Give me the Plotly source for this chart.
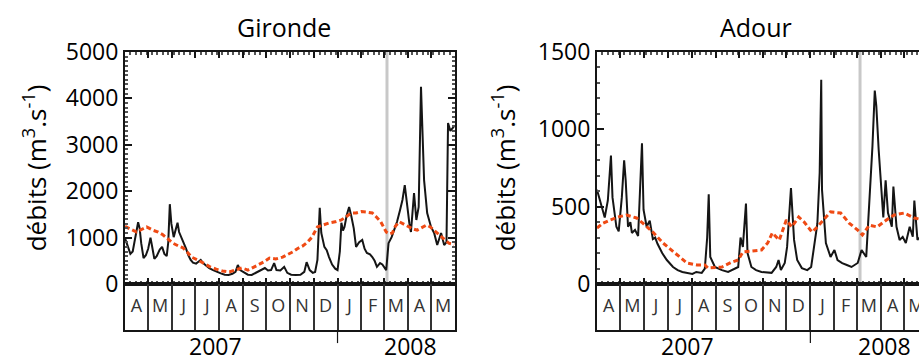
import pandas as pd
import plotly.graph_objects as go

# month letters shown in the band under each panel (Apr 2007 -> May 2008)
months = ['A', 'M', 'J', 'J', 'A', 'S', 'O', 'N', 'D', 'J', 'F', 'M', 'A', 'M']
years = ['2007', '2008']
year_label_dates = ['2007-07-27', '2008-04-05']
year_breaks = ['2008-01-01']
marker_date = '2008-03-05'   # grey vertical line

# Gironde: observed daily discharge (m3/s)
gironde_dates = [
    '2007-04-01', '2007-04-04', '2007-04-08', '2007-04-11', '2007-04-14', '2007-04-18',
    '2007-04-20', '2007-04-22', '2007-04-25', '2007-04-28', '2007-05-01', '2007-05-04',
    '2007-05-06', '2007-05-09', '2007-05-12', '2007-05-16', '2007-05-19', '2007-05-22',
    '2007-05-25', '2007-05-27', '2007-05-29', '2007-05-31', '2007-06-03', '2007-06-06',
    '2007-06-08', '2007-06-10', '2007-06-13', '2007-06-16', '2007-06-19', '2007-06-22',
    '2007-06-25', '2007-06-28', '2007-07-02', '2007-07-05', '2007-07-08', '2007-07-11',
    '2007-07-15', '2007-07-19', '2007-07-24', '2007-07-29', '2007-08-03', '2007-08-08',
    '2007-08-13', '2007-08-18', '2007-08-22', '2007-08-25', '2007-08-28', '2007-09-02',
    '2007-09-07', '2007-09-12', '2007-09-17', '2007-09-21', '2007-09-25', '2007-09-29',
    '2007-10-03', '2007-10-07', '2007-10-11', '2007-10-14', '2007-10-19', '2007-10-24',
    '2007-10-28', '2007-11-02', '2007-11-08', '2007-11-14', '2007-11-19', '2007-11-22',
    '2007-11-26', '2007-11-30', '2007-12-03', '2007-12-06', '2007-12-09', '2007-12-11',
    '2007-12-15', '2007-12-18', '2007-12-21', '2007-12-25', '2007-12-29', '2008-01-01',
    '2008-01-04', '2008-01-06', '2008-01-08', '2008-01-10', '2008-01-13', '2008-01-16',
    '2008-01-19', '2008-01-22', '2008-01-25', '2008-01-29', '2008-02-02', '2008-02-05',
    '2008-02-08', '2008-02-12', '2008-02-15', '2008-02-18', '2008-02-21', '2008-02-25',
    '2008-02-28', '2008-03-02', '2008-03-04', '2008-03-07', '2008-03-11', '2008-03-15',
    '2008-03-18', '2008-03-22', '2008-03-25', '2008-03-28', '2008-03-31', '2008-04-03',
    '2008-04-05', '2008-04-09', '2008-04-12', '2008-04-15', '2008-04-18', '2008-04-20',
    '2008-04-22', '2008-04-26', '2008-05-01', '2008-05-05', '2008-05-09', '2008-05-14',
    '2008-05-18', '2008-05-21', '2008-05-23', '2008-05-26', '2008-05-31']
gironde_q = [
    990, 820, 650, 700, 980, 1330,
    1200, 880, 560, 620, 760, 1000,
    820, 540, 600, 740, 800, 650,
    600, 900, 1720, 1300, 1010, 1200,
    1320, 1120, 1010, 880, 760, 620,
    520, 460, 440, 480, 520, 450,
    390, 340, 300, 260, 230, 200,
    195, 220, 260, 410, 300, 250,
    200, 195, 240, 260, 300, 345,
    290, 300, 450, 300, 290, 370,
    240, 200, 195, 200, 260, 470,
    300, 240, 260, 520, 1640, 1100,
    800, 730, 580, 420, 330, 300,
    700, 1320, 1150, 1230, 1490, 1660,
    1450, 1200, 800, 900, 950, 760,
    670, 640, 580, 500, 370, 450,
    420, 350, 300, 880, 1010, 1200,
    1340, 1600, 1810, 2130, 1660, 1300,
    1120, 1960, 1380, 1660, 4250, 3000,
    2240, 1530, 1230, 1100, 840, 1100,
    840, 900, 3470, 3300, 3400]

# Gironde: mean seasonal discharge (dashed)
gironde_clim_dates = [
    '2007-04-01', '2007-04-08', '2007-04-16', '2007-04-23', '2007-04-29', '2007-05-07',
    '2007-05-14', '2007-05-20', '2007-05-27', '2007-06-02', '2007-06-09', '2007-06-15',
    '2007-06-21', '2007-06-26', '2007-07-04', '2007-07-12', '2007-07-20', '2007-07-28',
    '2007-08-05', '2007-08-14', '2007-08-22', '2007-08-30', '2007-09-07', '2007-09-14',
    '2007-09-20', '2007-09-28', '2007-10-05', '2007-10-13', '2007-10-22', '2007-10-29',
    '2007-11-04', '2007-11-10', '2007-11-17', '2007-11-23', '2007-11-29', '2007-12-06',
    '2007-12-13', '2007-12-21', '2007-12-29', '2008-01-06', '2008-01-12', '2008-01-19',
    '2008-01-25', '2008-02-01', '2008-02-07', '2008-02-15', '2008-02-20', '2008-02-26',
    '2008-03-04', '2008-03-08', '2008-03-12', '2008-03-16', '2008-03-21', '2008-03-27',
    '2008-04-02', '2008-04-07', '2008-04-13', '2008-04-19', '2008-04-25', '2008-04-30',
    '2008-05-05', '2008-05-10', '2008-05-15', '2008-05-24', '2008-05-31']
gironde_clim = [
    1240, 1180, 1120, 1180, 1230, 1160,
    1120, 1060, 960, 880, 820, 780,
    680, 580, 520, 440, 370, 320,
    280, 260, 300, 345, 300, 350,
    410, 480, 560, 540, 580, 640,
    690, 760, 820, 900, 1010, 1230,
    1270, 1315, 1340, 1380, 1450, 1530,
    1530, 1560, 1550, 1530, 1450, 1340,
    1120, 1080, 1100, 1250, 1340, 1290,
    1230, 1190, 1160, 1220, 1270, 1230,
    1160, 1080, 1010, 880, 850]

# Adour: observed daily discharge (m3/s)
adour_dates = [
    '2007-04-01', '2007-04-05', '2007-04-08', '2007-04-11', '2007-04-15', '2007-04-17',
    '2007-04-19', '2007-04-21', '2007-04-24', '2007-04-26', '2007-04-29', '2007-05-03',
    '2007-05-06', '2007-05-08', '2007-05-11', '2007-05-14', '2007-05-16', '2007-05-20',
    '2007-05-24', '2007-05-26', '2007-05-29', '2007-05-31', '2007-06-04', '2007-06-08',
    '2007-06-12', '2007-06-15', '2007-06-18', '2007-06-24', '2007-06-30', '2007-07-08',
    '2007-07-14', '2007-07-20', '2007-07-27', '2007-08-02', '2007-08-07', '2007-08-14',
    '2007-08-18', '2007-08-21', '2007-08-23', '2007-08-25', '2007-08-31', '2007-09-09',
    '2007-09-17', '2007-09-26', '2007-09-30', '2007-10-03', '2007-10-06', '2007-10-10',
    '2007-10-12', '2007-10-17', '2007-10-23', '2007-10-30', '2007-11-06', '2007-11-12',
    '2007-11-18', '2007-11-21', '2007-11-24', '2007-11-29', '2007-12-02', '2007-12-05',
    '2007-12-07', '2007-12-11', '2007-12-15', '2007-12-21', '2007-12-28', '2008-01-02',
    '2008-01-06', '2008-01-10', '2008-01-13', '2008-01-15', '2008-01-16', '2008-01-21',
    '2008-01-27', '2008-02-01', '2008-02-05', '2008-02-11', '2008-02-17', '2008-02-23',
    '2008-03-02', '2008-03-07', '2008-03-13', '2008-03-17', '2008-03-21', '2008-03-24',
    '2008-03-26', '2008-03-29', '2008-04-02', '2008-04-04', '2008-04-07', '2008-04-10',
    '2008-04-15', '2008-04-17', '2008-04-21', '2008-04-25', '2008-04-29', '2008-05-03',
    '2008-05-08', '2008-05-12', '2008-05-14', '2008-05-18', '2008-05-20']
adour_q = [
    610, 540, 470, 430, 540, 700,
    830, 560, 420, 370, 340, 560,
    800, 670, 370, 400, 330, 350,
    310, 540, 910, 480, 370, 410,
    290, 300, 260, 200, 155, 110,
    90, 78, 70, 65, 78, 72,
    100, 300, 580, 175, 110, 90,
    78, 100, 110, 300, 240, 520,
    200, 110, 90, 78, 75, 72,
    110, 155, 90, 136, 240, 450,
    620, 285, 155, 103, 90, 110,
    240, 390, 720, 1320, 610, 265,
    175, 220, 155, 135, 123, 110,
    136, 220, 175, 500, 890, 1250,
    1150, 870, 540, 430, 670, 460,
    370, 630, 370, 285, 305, 265,
    370, 305, 540, 285, 300]

# Adour: mean seasonal discharge (dashed)
adour_clim_dates = [
    '2007-04-01', '2007-04-09', '2007-04-18', '2007-04-28', '2007-05-09', '2007-05-22',
    '2007-05-30', '2007-06-12', '2007-06-25', '2007-07-10', '2007-07-26', '2007-08-08',
    '2007-08-18', '2007-08-22', '2007-09-09', '2007-09-22', '2007-09-30', '2007-10-06',
    '2007-10-17', '2007-10-30', '2007-11-07', '2007-11-13', '2007-11-22', '2007-11-26',
    '2007-12-01', '2007-12-08', '2007-12-17', '2007-12-24', '2008-01-03', '2008-01-10',
    '2008-01-16', '2008-01-27', '2008-02-09', '2008-02-20', '2008-03-02', '2008-03-08',
    '2008-03-17', '2008-03-27', '2008-04-08', '2008-04-18', '2008-05-01', '2008-05-14',
    '2008-05-20']
adour_clim = [
    362, 394, 414, 433, 446, 427,
    394, 336, 265, 200, 136, 123,
    123, 103, 110, 142, 155, 207,
    213, 220, 265, 330, 284, 349,
    414, 369, 433, 401, 336, 369,
    401, 466, 459, 394, 349, 317,
    381, 369, 414, 446, 459, 427,
    420]

BLACK = '#151515'
ORANGE = '#ef4a14'
FONT = 'Open Sans'

month_starts = pd.date_range('2007-04-01', '2008-06-01', freq='MS')
month_mids = month_starts[:-1] + (month_starts[1:] - month_starts[:-1]) / 2

fig = go.Figure()

panels = [
    dict(title='Gironde', dates=gironde_dates, q=gironde_q,
         cdates=gironde_clim_dates, c=gironde_clim, xdom=[0.136, 0.4951],
         xend='2008-06-01', ymax=5000, dtick=1000, title_x=0.309, right=True,
         standoff=12, ax=('x', 'y', 'x3', 'y3')),
    dict(title='Adour', dates=adour_dates, q=adour_q,
         cdates=adour_clim_dates, c=adour_clim, xdom=[0.6496, 1.0],
         xend='2008-05-20', ymax=1500, dtick=500, title_x=0.8226, right=False,
         standoff=15, ax=('x2', 'y2', 'x4', 'y4')),
]

data_dom = [0.2111, 0.8556]
band_dom = [0.0833, 0.2111]
shapes = []
annotations = []

for p in panels:
    xa, ya, xb, yb = p['ax']
    fig.add_trace(go.Scatter(x=p['dates'], y=p['q'], mode='lines',
                             line=dict(color=BLACK, width=2),
                             xaxis=xa, yaxis=ya, showlegend=False))
    fig.add_trace(go.Scatter(x=p['cdates'], y=p['c'], mode='lines',
                             line=dict(color=ORANGE, width=3, dash='5px,3px'),
                             xaxis=xa, yaxis=ya, showlegend=False))
    fig.add_trace(go.Scatter(x=month_mids, y=[0.5] * len(months), mode='text',
                             text=months, textfont=dict(size=18, color='#333', family=FONT),
                             xaxis=xb, yaxis=yb, showlegend=False, cliponaxis=True))

    xkey = 'xaxis' + xa[1:]
    ykey = 'yaxis' + ya[1:]
    xbkey = 'xaxis' + xb[1:]
    ybkey = 'yaxis' + yb[1:]
    xr = ['2007-04-01', p['xend']]

    fig.layout[xkey] = dict(
        domain=p['xdom'], anchor=ya, range=xr, type='date',
        showline=True, linecolor=BLACK, linewidth=2, mirror='ticks',
        ticks='inside', ticklen=6, tickwidth=1.5, tickcolor=BLACK,
        tick0='2007-04-01', dtick='M1', showticklabels=False, showgrid=False,
        zeroline=False, automargin=False,
        minor=dict(ticks='inside', ticklen=3, tickcolor='#555',
                   dtick=7 * 86400000, tick0='2007-04-01'))
    fig.layout[ykey] = dict(
        domain=data_dom, anchor=xa, range=[0, p['ymax']],
        showline=True, linecolor=BLACK, linewidth=2,
        mirror='ticks' if p['right'] else False,
        ticks='inside', ticklen=7, tickwidth=1.5, tickcolor=BLACK,
        dtick=p['dtick'], tick0=0, showgrid=False, zeroline=False,
        tickfont=dict(size=23, color='black', family=FONT),
        title=dict(text='débits (m<sup>3</sup>.s<sup>-1</sup>)',
                   font=dict(size=26, color='black', family=FONT),
                   standoff=p['standoff']),
        automargin=False,
        minor=dict(ticks='inside', ticklen=3, tickcolor='#555', dtick=100))
    fig.layout[xbkey] = dict(
        domain=p['xdom'], anchor=yb, range=xr, type='date',
        showline=True, linecolor=BLACK, linewidth=2, mirror=True,
        ticks='', tick0='2007-04-01', dtick='M1', showticklabels=False,
        showgrid=True, gridcolor='#333', gridwidth=2, zeroline=False,
        automargin=False)
    fig.layout[ybkey] = dict(
        domain=band_dom, anchor=xb, range=[0, 1],
        showline=True, linecolor=BLACK, linewidth=2,
        mirror=True if p['right'] else False,
        ticks='', showticklabels=False, showgrid=False, zeroline=False,
        automargin=False)

    shapes.append(dict(type='line', xref=xa, yref=ya + ' domain',
                       x0=marker_date, x1=marker_date, y0=0, y1=1,
                       line=dict(color='#c8c8c8', width=3), layer='below'))
    for d in year_breaks:
        shapes.append(dict(type='line', xref=xb, yref='paper', x0=d, x1=d,
                           y0=band_dom[0], y1=0.047,
                           line=dict(color=BLACK, width=1.2)))
    for yr, d in zip(years, year_label_dates):
        annotations.append(dict(text=yr, x=d, xref=xb, y=0.038, yref='paper',
                                showarrow=False, yanchor='middle',
                                font=dict(size=23, color='black', family=FONT)))
    annotations.append(dict(text=p['title'], x=p['title_x'], xref='paper',
                            y=0.925, yref='paper', showarrow=False,
                            xanchor='center', yanchor='middle',
                            font=dict(size=25, color='black', family=FONT)))

fig.update_layout(
    width=919, height=360,
    margin=dict(l=0, r=0, t=0, b=0),
    template='none',
    plot_bgcolor='white', paper_bgcolor='white',
    font=dict(family=FONT, color='black'),
    shapes=shapes, annotations=annotations,
    showlegend=False,
)

# drop the browser's default body margin so the figure sits at the page corner
fig.write_html("out.html", config={'displayModeBar': False},
               post_script="document.body.style.margin='0';")
